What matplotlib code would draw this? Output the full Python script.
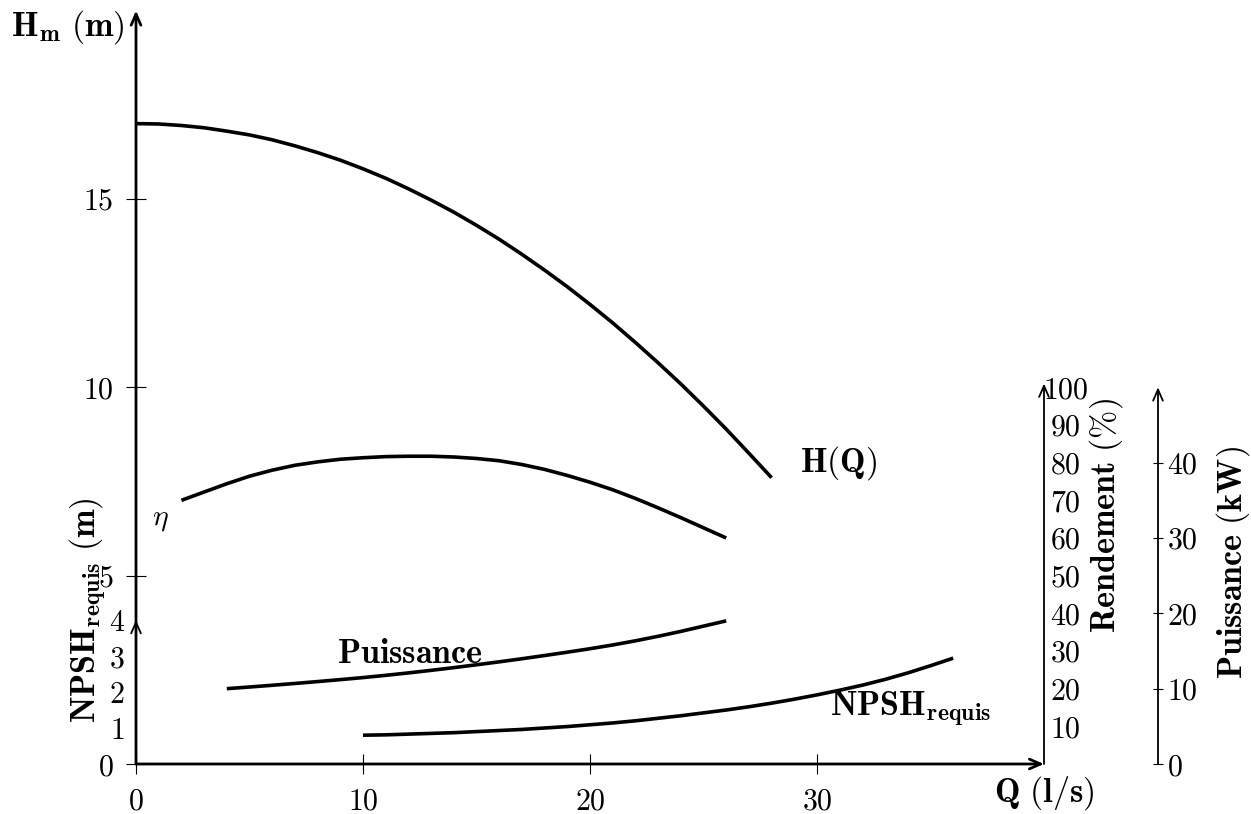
import matplotlib
matplotlib.use('Agg')
import matplotlib.pyplot as plt

plt.rcParams['mathtext.fontset'] = 'cm'
plt.rcParams['font.family'] = ['DejaVu Serif']

# ---------------- data ----------------
q_head = [0, 1, 2, 3, 4, 5, 6, 7, 8, 9, 10, 11, 12, 13, 14,
          15, 16, 17, 18, 19, 20, 21, 22, 23, 24, 25, 26, 27, 28]
head_m = [17.0, 16.99, 16.95, 16.89, 16.8, 16.7, 16.57, 16.41, 16.23, 16.03, 15.8,
          15.55, 15.27, 14.97, 14.65, 14.3, 13.93, 13.53, 13.11, 12.67, 12.2,
          11.71, 11.19, 10.65, 10.09, 9.5, 8.89, 8.25, 7.6]

q_eta = [2, 3, 4, 5, 6, 7, 8, 9, 10, 11, 12, 13, 14,
         15, 16, 17, 18, 19, 20, 21, 22, 23, 24, 25, 26]
eta_pct = [70.0, 72.2, 74.4, 76.4, 78.0, 79.3, 80.2, 80.9, 81.3, 81.6, 81.7, 81.7, 81.5,
           81.1, 80.5, 79.5, 78.2, 76.6, 74.8, 72.8, 70.5, 68.0, 65.4, 62.7, 60.0]

q_power = [4, 5, 6, 7, 8, 9, 10, 11, 12, 13, 14, 15,
           16, 17, 18, 19, 20, 21, 22, 23, 24, 25, 26]
power_kw = [10.0, 10.22, 10.45, 10.69, 10.94, 11.2, 11.47, 11.77, 12.09, 12.43, 12.79, 13.17,
            13.56, 13.97, 14.4, 14.84, 15.3, 15.8, 16.35, 16.95, 17.6, 18.3, 19.0]

q_npsh = [10, 11, 12, 13, 14, 15, 16, 17, 18, 19, 20, 21, 22, 23,
          24, 25, 26, 27, 28, 29, 30, 31, 32, 33, 34, 35, 36]
npsh_m = [0.8, 0.81, 0.83, 0.85, 0.87, 0.9, 0.93, 0.96, 1.0, 1.04, 1.09, 1.14, 1.2, 1.27,
          1.34, 1.42, 1.5, 1.59, 1.69, 1.8, 1.92, 2.05, 2.19, 2.35, 2.53, 2.73, 2.94]

q_ticks = [0, 10, 20, 30]
hm_ticks = [0, 5, 10, 15]
npsh_ticks = [1, 2, 3, 4]
eta_ticks = [10, 20, 30, 40, 50, 60, 70, 80, 90, 100]
power_ticks = [0, 10, 20, 30, 40]

# ---------------- figure ----------------
W, H = 1251, 814
fig = plt.figure(figsize=(W / 100, H / 100), dpi=100)
ax = fig.add_axes([136 / W, (H - 764) / H, 908 / W, 753.4 / H])
ax.set_xlim(0, 40)
ax.set_ylim(0, 20)

ax_eta = ax.twinx()
ax_eta.set_ylim(0, 200)
ax_pow = ax.twinx()
ax_pow.set_ylim(0, 100)
pow_pos = (1158 - 136) / 908
ax_pow.spines['right'].set_position(('axes', pow_pos))
ax_npsh = ax.twinx()
ax_npsh.set_ylim(0, 753.4 / 36)
ax_npsh.yaxis.tick_left()

for a in (ax, ax_eta, ax_pow, ax_npsh):
    for s in a.spines.values():
        s.set_visible(False)
    a.patch.set_visible(False)

FS = 21.5      # regular (tick labels)
FB = 24.5      # bold labels
CURVE_LW = 2.6
arrow_main = dict(arrowstyle='->,head_length=0.8,head_width=0.35', lw=2.0, color='k',
                  shrinkA=0, shrinkB=0)
arrow_sec = dict(arrowstyle='->,head_length=0.8,head_width=0.35', lw=1.3, color='k',
                 shrinkA=0, shrinkB=0)

# axes lines with arrows
ax.annotate('', xy=(40, 0), xytext=(0, 0), arrowprops=arrow_main, annotation_clip=False)
ax.annotate('', xy=(0, 20), xytext=(0, 0), arrowprops=arrow_main, annotation_clip=False)
ax_npsh.annotate('', xy=(0, 4), xytext=(0, 0), arrowprops=arrow_sec, annotation_clip=False)
ax_eta.annotate('', xy=(40, 101), xytext=(40, 0), arrowprops=arrow_sec, annotation_clip=False)
ax_pow.annotate('', xy=(pow_pos, 50), xytext=(pow_pos, 0),
                xycoords=ax_pow.get_yaxis_transform(), textcoords=ax_pow.get_yaxis_transform(),
                arrowprops=arrow_sec, annotation_clip=False)

# ticks
ax.set_xticks(q_ticks, [f'${v}$' for v in q_ticks])
ax.tick_params(axis='x', direction='inout', length=14.5, width=0.8, pad=10, labelsize=FS)
ax.set_yticks(hm_ticks, [f'${v}$' for v in hm_ticks])
ax.tick_params(axis='y', direction='inout', length=14.5, width=0.8, pad=9, labelsize=FS)

ax_npsh.set_yticks(npsh_ticks, [f'${v}$' for v in npsh_ticks])
ax_npsh.tick_params(axis='y', length=0, pad=8, labelsize=FS, left=True, labelleft=True,
                    right=False, labelright=False)

ax_eta.set_yticks(eta_ticks, [f'${v}$' for v in eta_ticks])
ax_eta.tick_params(axis='y', length=0, pad=15.5, labelsize=FS)
for lbl in ax_eta.get_yticklabels():
    lbl.set_horizontalalignment('center')

ax_pow.set_yticks(power_ticks, [f'${v}$' for v in power_ticks])
ax_pow.tick_params(axis='y', direction='inout', length=7.5, width=0.8, pad=2.5, labelsize=FS)

# curves
for a, xs, ys in ((ax, q_head, head_m), (ax_eta, q_eta, eta_pct),
                  (ax_pow, q_power, power_kw), (ax_npsh, q_npsh, npsh_m)):
    a.plot(xs, ys, color='k', lw=CURVE_LW, solid_capstyle='butt',
           solid_joinstyle='round', clip_on=False)

# curve labels
ax.text(30.95, 8.0, r'$\mathbf{H(Q)}$', ha='center', va='center', fontsize=FB)
ax.text(1.06, 6.5, r'$\eta$', ha='center', va='center', fontsize=FS)
ax.text(12.05, 2.68, r'$\mathbf{Puissance}$', ha='center', va='baseline', fontsize=FB)
ax.text(34.1, 1.28, r'$\mathbf{NPSH_{requis}}$', ha='center', va='baseline', fontsize=FB)

# axis titles
ax.text(-3.0, 19.33, r'$\mathbf{H_m\ (m)}$', ha='center', va='baseline', fontsize=FB, clip_on=False)
ax.text(40.0, -0.77, r'$\mathbf{Q\ (l/s)}$', ha='center', va='center', fontsize=FB, clip_on=False)
ax.text(42.73, 6.6, r'$\mathbf{Rendement\ (\%)}$', ha='center', va='center', rotation=90,
        fontsize=FB, clip_on=False)
ax.text(48.33, 5.34, r'$\mathbf{Puissance\ (kW)}$', ha='center', va='center', rotation=90,
        fontsize=FB, clip_on=False)
ax.text(-2.11, 4.09, r'$\mathbf{NPSH_{requis}\ (m)}$', ha='center', va='center', rotation=90,
        fontsize=FB, clip_on=False)

fig.savefig('out.png', dpi=100)
